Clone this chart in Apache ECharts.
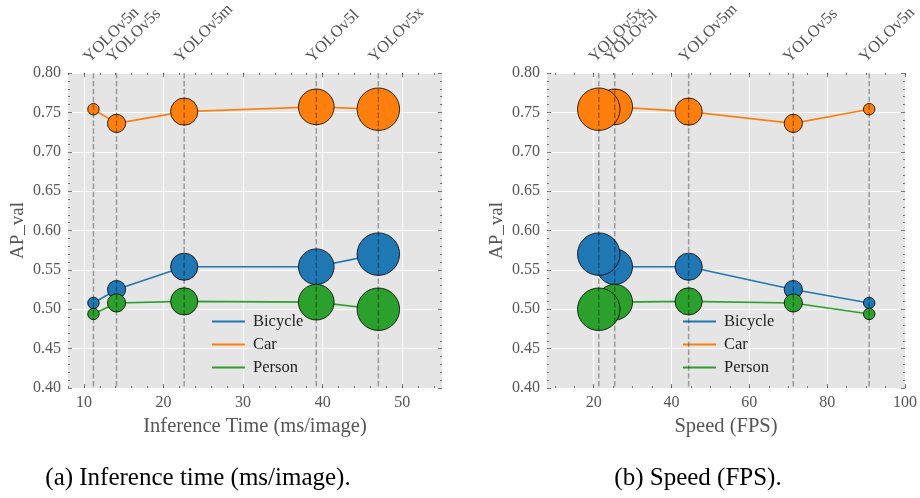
<!DOCTYPE html>
<html><head><meta charset="utf-8">
<script src="https://cdn.jsdelivr.net/npm/echarts@6/dist/echarts.min.js"></script>
<style>html,body{margin:0;padding:0;background:#fff}#c{width:920px;height:498px}</style>
</head><body><div id="c"></div>
<script>
// ---- data ----
const models = ['YOLOv5n', 'YOLOv5s', 'YOLOv5m', 'YOLOv5l', 'YOLOv5x'];
const inferenceMs = [11.2, 14.1, 22.6, 39.2, 47.0];
const speedFps = [90.8, 71.3, 44.4, 25.4, 21.3];
const bicycleAP = [0.508, 0.525, 0.554, 0.554, 0.570];
const carAP = [0.754, 0.736, 0.751, 0.757, 0.754];
const personAP = [0.494, 0.508, 0.510, 0.509, 0.500];
const markerSize = [12.3, 19, 28, 36.5, 43.3];
const timeTicks = [10, 20, 30, 40, 50];
const fpsTicks = [20, 40, 60, 80, 100];
const seriesNames = ['Bicycle', 'Car', 'Person'];
const seriesAP = [bicycleAP, carAP, personAP];

// ---- styling ----
const FONT = 'Liberation Serif';
const TXT = '#555555';
const TICK = '#555555';
const COLORS = ['#1f77b4', '#ff7f0e', '#2ca02c'];

const panels = [
  {xs: inferenceMs, min: 8, max: 55, majors: timeTicks, minorStep: 2, name: 'Inference Time (ms/image)',
   grid: {left: 68, top: 73, width: 374, height: 315}, legendLeft: 207},
  {xs: speedFps, min: 8, max: 100, majors: fpsTicks, minorStep: 5, name: 'Speed (FPS)',
   grid: {left: 547, top: 73, width: 360, height: 315}, legendLeft: 678}
];

const grid = [], xAxis = [], yAxis = [], series = [], legend = [];
panels.forEach((p, gi) => {
  grid.push(Object.assign({show: true, backgroundColor: '#e5e5e5', borderWidth: 0}, p.grid));
  const minors = [];
  for (let v = Math.ceil(p.min / p.minorStep) * p.minorStep; v <= p.max; v += p.minorStep) minors.push(v);
  const base = xAxis.length;
  const mk = (pos, vals, len, main) => ({
    gridIndex: gi, type: 'value', position: pos, min: p.min, max: p.max,
    axisLine: {show: false},
    axisTick: {show: true, inside: true, length: len, customValues: vals, lineStyle: {color: TICK, width: 0.8}},
    axisLabel: main ? {show: true, customValues: p.majors, margin: 7, fontFamily: FONT, fontSize: 16, color: TXT}
                    : {show: false},
    splitLine: {show: !!main, lineStyle: {color: '#ffffff', width: 1}},
    name: main ? p.name : '', nameLocation: 'middle', nameGap: 26,
    nameTextStyle: {fontFamily: FONT, fontSize: 20.5, color: TXT}
  });
  xAxis.push(mk('bottom', p.majors, 4, true));
  xAxis.push(mk('bottom', minors, 2, false));
  xAxis.push(mk('top', p.majors, 4, false));
  xAxis.push(mk('top', minors, 2, false));
  const ybase = yAxis.length;
  const mky = (pos, main) => ({
    gridIndex: gi, type: 'value', position: pos, min: 0.40, max: 0.80, interval: 0.05,
    axisLine: {show: false},
    axisTick: {show: true, inside: true, length: 4, lineStyle: {color: TICK, width: 0.8}},
    minorTick: {show: true, splitNumber: 5, length: 2, lineStyle: {color: TICK, width: 0.8}},
    axisLabel: main ? {show: true, margin: 7, fontFamily: FONT, fontSize: 16, color: TXT,
                       formatter: v => v.toFixed(2)} : {show: false},
    splitLine: {show: !!main, lineStyle: {color: '#ffffff', width: 1}},
    name: main ? 'AP_val' : '', nameLocation: 'middle', nameGap: 40,
    nameTextStyle: {fontFamily: FONT, fontSize: 19, color: TXT}
  });
  yAxis.push(mky('left', true));
  yAxis.push(mky('right', false));

  seriesNames.forEach((nm, si) => {
    series.push({
      type: 'line', name: nm, xAxisIndex: base, yAxisIndex: ybase,
      data: p.xs.map((x, i) => [x, seriesAP[si][i]]),
      symbol: 'circle', showSymbol: true,
      symbolSize: (v, prm) => markerSize[prm.dataIndex] - 0.8,
      lineStyle: {color: COLORS[si], width: 1.6},
      itemStyle: {color: COLORS[si], borderColor: '#000000', borderWidth: 0.8},
      emphasis: {disabled: true}, z: 2 + si, animation: false
    });
  });
  series.push({
    type: 'custom', xAxisIndex: base, yAxisIndex: ybase, z: 10, clip: false, animation: false, silent: true,
    data: p.xs.map(x => [x, 0.6]), encode: {x: 0, y: 1},
    renderItem: (params, api) => {
      const x = api.value(0);
      const top = api.coord([x, 0.80]);
      const bot = api.coord([x, 0.40]);
      return {type: 'group', children: [
        {type: 'line', shape: {x1: top[0], y1: top[1], x2: bot[0], y2: bot[1]},
         style: {stroke: 'rgba(0,0,0,0.33)', lineWidth: 1.5, lineDash: [5.5, 2.4]}},
        {type: 'text', x: top[0] - 1, y: top[1] - 7, rotation: Math.PI / 4,
         style: {text: models[params.dataIndex], textAlign: 'left', textVerticalAlign: 'bottom',
                 font: '16.5px "' + FONT + '"', fill: TXT}}
      ]};
    }
  });
  legend.push({
    data: seriesNames, orient: 'vertical', left: p.legendLeft, top: 308,
    icon: 'rect', itemWidth: 33, itemHeight: 2, itemGap: 6,
    itemStyle: {borderWidth: 0}, selectedMode: false,
    textStyle: {fontFamily: FONT, fontSize: 16.5, color: '#222', padding: [0, 0, 0, 3], lineHeight: 17}
  });
});

const chart = echarts.init(document.getElementById('c'), null, {renderer: 'canvas'});
chart.setOption({
  animation: false,
  backgroundColor: '#ffffff',
  grid, xAxis, yAxis, series, legend,
  graphic: [
    {type: 'text', x: 198, y: 478, style: {text: '(a) Inference time (ms/image).', textAlign: 'center',
      textVerticalAlign: 'middle', font: '25px "' + FONT + '"', fill: '#000'}},
    {type: 'text', x: 698, y: 478, style: {text: '(b) Speed (FPS).', textAlign: 'center',
      textVerticalAlign: 'middle', font: '25px "' + FONT + '"', fill: '#000'}}
  ]
});
</script></body></html>
